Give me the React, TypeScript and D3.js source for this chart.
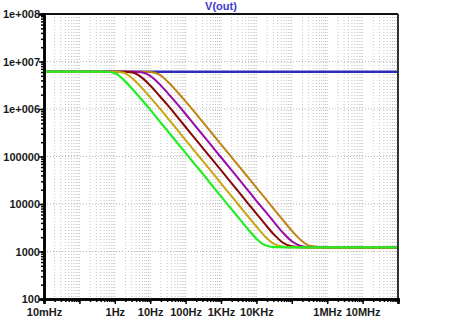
import React, { useEffect, useRef } from 'react';
import * as d3 from 'd3';

// frequency grid (Hz) shared by the roll-off traces
const freqs = [0.01, 0.316, 0.562, 1, 1.78, 3.16, 5.62, 10, 17.8, 31.6, 56.2, 100, 178, 316, 562,
  1e3, 1.78e3, 3.16e3, 5.62e3, 1e4, 1.78e4, 3.16e4, 5.62e4, 1e5, 1.78e5, 3.16e5, 1e6, 1e8];

const green = [6.1e6, 6.1e6, 6.08e6, 5.7e6, 4.1e6, 2.6e6, 1.6e6, 9.7e5, 5.7e5, 3.4e5, 2.0e5, 1.19e5, 7.0e4, 4.2e4, 2.45e4,
  1.45e4, 8.59e3, 5.11e3, 3.02e3, 1.86e3, 1.35e3, 1.24e3, 1.23e3, 1.22e3, 1.22e3, 1.22e3, 1.22e3, 1.22e3];
const gold = [6.1e6, 6.1e6, 6.1e6, 6.08e6, 5.78e6, 4.39e6, 2.85e6, 1.76e6, 1.07e6, 6.34e5, 3.77e5, 2.22e5, 1.32e5, 7.78e4, 4.65e4,
  2.73e4, 1.61e4, 9.53e3, 5.66e3, 3.36e3, 2.05e3, 1.44e3, 1.26e3, 1.23e3, 1.22e3, 1.22e3, 1.22e3, 1.22e3];
const maroon = [6.1e6, 6.1e6, 6.1e6, 6.1e6, 6.08e6, 5.85e6, 4.68e6, 3.12e6, 1.94e6, 1.19e6, 7.05e5, 4.18e5, 2.47e5, 1.47e5, 8.65e4,
  5.15e4, 3.04e4, 1.79e4, 1.06e4, 6.28e3, 3.72e3, 2.26e3, 1.53e3, 1.29e3, 1.23e3, 1.22e3, 1.22e3, 1.22e3];
const purple = [6.1e6, 6.1e6, 6.1e6, 6.1e6, 6.1e6, 6.1e6, 5.93e6, 5.0e6, 3.42e6, 2.14e6, 1.31e6, 7.85e5, 4.63e5, 2.75e5, 1.63e5,
  9.64e4, 5.7e4, 3.38e4, 1.99e4, 1.17e4, 6.98e3, 4.14e3, 2.49e3, 1.64e3, 1.31e3, 1.24e3, 1.22e3, 1.22e3];
const darkgold = [6.1e6, 6.1e6, 6.1e6, 6.1e6, 6.1e6, 6.1e6, 6.1e6, 6.0e6, 5.33e6, 3.74e6, 2.36e6, 1.45e6, 8.73e5, 5.14e5, 3.05e5,
  1.80e5, 1.07e5, 6.32e4, 3.77e4, 2.2e4, 1.31e4, 7.74e3, 4.59e3, 2.74e3, 1.75e3, 1.33e3, 1.23e3, 1.22e3];

const blueFreqs = [0.01, 1e8];
const blue = [6.1e6, 6.1e6];

const xTickVals = [0.01, 1, 10, 100, 1e3, 1e4, 1e6, 1e7];
const xTickLabels = ['10mHz', '1Hz', '10Hz', '100Hz', '1KHz', '10KHz', '1MHz', '10MHz'];
const yTickVals = [1e8, 1e7, 1e6, 1e5, 1e4, 1e3, 100];
const yTickLabels = ['1e+008', '1e+007', '1e+006', '100000', '10000', '1000', '100'];

const W = 450, H = 321;
const L = 44, R = 398, T = 14, B = 299;
const FONT = '"Liberation Sans", Arial, sans-serif';

function minors(lo: number, hi: number) {
  const out: number[] = [];
  for (let d = lo; d < hi; d *= 10) {
    for (let k = 1; k <= 9; k++) out.push(d * k);
  }
  out.push(hi);
  return out;
}

export default function App() {
  const ref = useRef<SVGSVGElement>(null);

  useEffect(() => {
    const svg = d3.select(ref.current);
    svg.selectAll('*').remove();

    const x = d3.scaleLog().domain([0.01, 1e8]).range([L, R]);
    const y = d3.scaleLog().domain([100, 1e8]).range([B, T]);

    svg.append('rect').attr('width', W).attr('height', H).attr('fill', '#fff');

    // grid
    const grid = svg.append('g');
    grid.selectAll('line.v')
      .data(minors(0.01, 1e8).filter(v => v > 0.01 && v < 1e8))
      .enter().append('line')
      .attr('x1', d => x(d)).attr('x2', d => x(d))
      .attr('y1', T).attr('y2', B)
      .attr('stroke', '#c4c4c4').attr('stroke-width', 1).attr('stroke-dasharray', '1,2');
    grid.selectAll('line.h')
      .data(yTickVals.filter(v => v > 100 && v < 1e8))
      .enter().append('line')
      .attr('x1', L).attr('x2', R)
      .attr('y1', d => y(d)).attr('y2', d => y(d))
      .attr('stroke', '#b8b8b8').attr('stroke-width', 1).attr('stroke-dasharray', '1,2');

    // traces
    const line = d3.line<[number, number]>()
      .x(d => x(d[0])).y(d => y(d[1]))
      .curve(d3.curveMonotoneX);

    const traces = [
      { f: blueFreqs, v: blue, c: '#2c2cbb', w: 2.5 },
      { f: freqs, v: darkgold, c: '#c08414', w: 2 },
      { f: freqs, v: purple, c: '#9a0aa8', w: 2 },
      { f: freqs, v: maroon, c: '#880808', w: 2 },
      { f: freqs, v: gold, c: '#c9a512', w: 2 },
      { f: freqs, v: green, c: '#22ee22', w: 2.2 },
    ];
    svg.append('g').selectAll('path')
      .data(traces)
      .enter().append('path')
      .attr('d', t => line(t.f.map((f, i) => [f, t.v[i]] as [number, number])))
      .attr('fill', 'none')
      .attr('stroke', t => t.c)
      .attr('stroke-width', t => t.w);

    // frame top / right
    svg.append('line').attr('x1', L).attr('x2', R).attr('y1', T).attr('y2', T)
      .attr('stroke', '#111').attr('stroke-width', 2);
    svg.append('line').attr('x1', R).attr('x2', R).attr('y1', T).attr('y2', B)
      .attr('stroke', '#333').attr('stroke-width', 2);

    // y axis
    const yMinor = d3.axisLeft(y).tickValues(minors(100, 1e8)).tickSize(3).tickFormat(() => '');
    const yMajor = d3.axisLeft(y).tickValues(yTickVals).tickSize(5)
      .tickFormat((d, i) => yTickLabels[i]);
    const gy = svg.append('g').attr('transform', `translate(${L},0)`);
    gy.append('g').call(yMinor);
    gy.append('g').call(yMajor);
    gy.selectAll('.domain').attr('stroke', '#000').attr('stroke-width', 2.5);
    gy.selectAll('.tick line').attr('stroke', '#000').attr('stroke-width', 1.5);
    gy.selectAll('.tick text').attr('x', -4).style('font-family', FONT).style('font-size', '11px')
      .style('font-weight', 'bold').attr('fill', '#1a1a1a');

    // x axis
    const xMinor = d3.axisBottom(x).tickValues(minors(0.01, 1e8)).tickSize(3).tickFormat(() => '');
    const xMajor = d3.axisBottom(x).tickValues(minors(0.01, 1e8).filter(v => Math.abs(Math.log10(v) % 1) < 1e-6))
      .tickSize(5).tickFormat(d => {
        const i = xTickVals.findIndex(v => Math.abs(Math.log10(v) - Math.log10(+d)) < 1e-6);
        return i >= 0 ? xTickLabels[i] : '';
      });
    const gx = svg.append('g').attr('transform', `translate(0,${B})`);
    gx.append('g').call(xMinor);
    gx.append('g').call(xMajor);
    gx.selectAll('.domain').attr('stroke', '#000').attr('stroke-width', 2.5);
    gx.selectAll('.tick line').attr('stroke', '#000').attr('stroke-width', 1.5);
    gx.selectAll('.tick text').attr('y', 9).style('font-family', FONT).style('font-size', '11px')
      .style('font-weight', 'bold').attr('fill', '#1a1a1a');

    // title
    svg.append('text').attr('x', 221).attr('y', 10).attr('text-anchor', 'middle')
      .style('font-family', FONT).style('font-size', '11px').style('font-weight', 'bold')
      .attr('fill', '#3a3acc').text('V(out)');
  }, []);

  return <svg ref={ref} width={W} height={H} style={{ position: 'absolute', left: 0, top: 0 }} />;
}
